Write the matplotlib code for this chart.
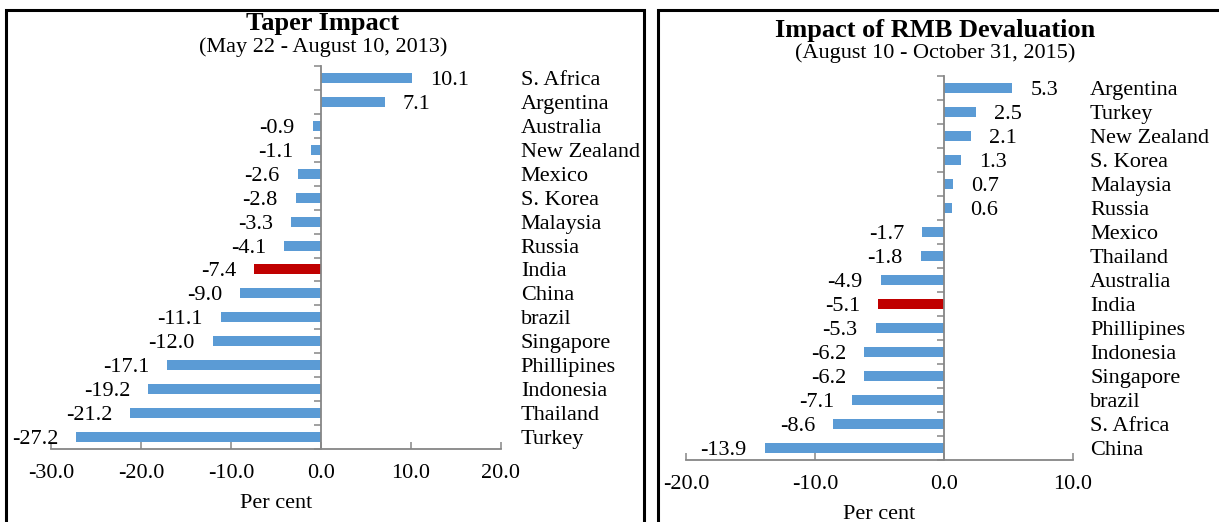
import matplotlib
matplotlib.use("Agg")
import matplotlib.pyplot as plt
import matplotlib.transforms as mtransforms
from matplotlib.patches import Rectangle
import numpy as np

plt.rcParams['font.family'] = ['Liberation Serif', 'DejaVu Serif']

# taper episode, 2013
taper_countries = ['S. Africa', 'Argentina', 'Australia', 'New Zealand', 'Mexico',
                   'S. Korea', 'Malaysia', 'Russia', 'India', 'China', 'brazil',
                   'Singapore', 'Phillipines', 'Indonesia', 'Thailand', 'Turkey']
taper_values = [10.1, 7.1, -0.9, -1.1, -2.6, -2.8, -3.3, -4.1, -7.4, -9.0,
                -11.1, -12.0, -17.1, -19.2, -21.2, -27.2]

# RMB devaluation, 2015
rmb_countries = ['Argentina', 'Turkey', 'New Zealand', 'S. Korea', 'Malaysia',
                 'Russia', 'Mexico', 'Thailand', 'Australia', 'India',
                 'Phillipines', 'Indonesia', 'Singapore', 'brazil', 'S. Africa',
                 'China']
rmb_values = [5.3, 2.5, 2.1, 1.3, 0.7, 0.6, -1.7, -1.8, -4.9, -5.1, -5.3,
              -6.2, -6.2, -7.1, -8.6, -13.9]

BLUE = '#5B9BD5'
RED = '#C00000'
GREY = '#868686'
FS = 16


def draw_panel(ax, countries, values, xlim, xticks, highlight='India'):
    n = len(countries)
    y = np.arange(n)
    colors = [RED if c == highlight else BLUE for c in countries]
    ax.barh(y, values, height=0.42, color=colors)
    ax.set_ylim(n - 0.5, -0.5)
    ax.set_xlim(*xlim)
    ax.set_xticks(xticks)
    ax.set_xticklabels(['%.1f' % t for t in xticks], fontsize=FS)

    for s in ['top', 'right']:
        ax.spines[s].set_visible(False)
    ax.spines['left'].set_position(('data', 0))
    for s in ['left', 'bottom']:
        ax.spines[s].set_color(GREY)
        ax.spines[s].set_linewidth(1.3)

    ax.set_yticks(np.arange(n + 1) - 0.5)
    ax.set_yticklabels([])
    ax.tick_params(axis='y', direction='out', length=5, color=GREY, width=1.1)
    ax.tick_params(axis='x', direction='in', length=5, color=GREY, width=1.1,
                   pad=11)

    for yi, v in zip(y, values):
        off = 13 if v >= 0 else -13
        ax.annotate('%.1f' % v, (v, yi), xytext=(off, 0),
                    textcoords='offset points', fontsize=FS,
                    ha='left' if v >= 0 else 'right', va='center_baseline')

    trans = mtransforms.blended_transform_factory(ax.transAxes, ax.transData)
    for yi, c in zip(y, countries):
        ax.text(1.044, yi, c, transform=trans, fontsize=FS, ha='left',
                va='center_baseline')

    ax.set_xlabel('Per cent', fontsize=FS, labelpad=8)


fig = plt.figure(figsize=(12.19, 5.22), dpi=100)

ax1 = fig.add_axes([51 / 1219, 73 / 522, 450 / 1219, 383 / 522])
draw_panel(ax1, taper_countries, taper_values, (-30, 20),
           [-30, -20, -10, 0, 10, 20])

ax2 = fig.add_axes([686 / 1219, 62 / 522, 387 / 1219, 384 / 522])
draw_panel(ax2, rmb_countries, rmb_values, (-20, 10), [-20, -10, 0, 10])

# titles
fig.text(323 / 1219, 1 - 30 / 522, 'Taper Impact', fontsize=19,
         fontweight='bold', ha='center', va='baseline')
fig.text(323 / 1219, 1 - 52 / 522, '(May 22 - August 10, 2013)', fontsize=FS,
         ha='center', va='baseline')
fig.text(935 / 1219, 1 - 37 / 522, 'Impact of RMB Devaluation', fontsize=19,
         fontweight='bold', ha='center', va='baseline')
fig.text(935 / 1219, 1 - 58 / 522, '(August 10 - October 31, 2015)',
         fontsize=FS, ha='center', va='baseline')

# panel frames
fig.add_artist(Rectangle((6 / 1219, -0.1), 638 / 1219, 1.1 - 10 / 522,
                         transform=fig.transFigure, fill=False,
                         edgecolor='black', linewidth=2.2))
fig.add_artist(Rectangle((658 / 1219, -0.1), 0.5, 1.1 - 10 / 522,
                         transform=fig.transFigure, fill=False,
                         edgecolor='black', linewidth=2.2))

fig.savefig('out.png', dpi=100)
